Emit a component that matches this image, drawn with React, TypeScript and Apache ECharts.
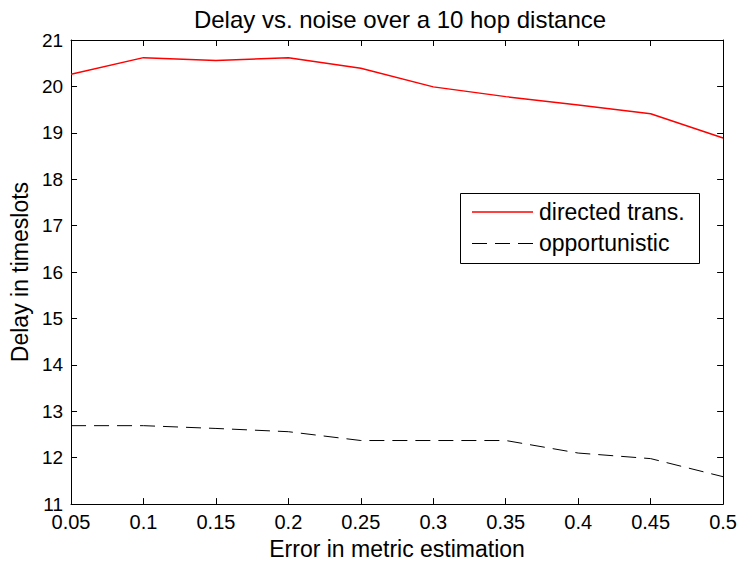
import React, { useEffect, useRef } from "react";
import * as echarts from "echarts";

const errorLevels = [0.05, 0.1, 0.15, 0.2, 0.25, 0.3, 0.35, 0.4, 0.45, 0.5];
const directedDelay = [20.26, 20.62, 20.56, 20.62, 20.39, 19.99, 19.78, 19.6, 19.41, 18.89];
const opportunisticDelay = [12.69, 12.69, 12.63, 12.56, 12.37, 12.37, 12.37, 12.1, 11.98, 11.59];
const seriesNames = ["directed trans.", "opportunistic"];
const titleText = "Delay vs. noise over a 10 hop distance";
const xAxisName = "Error in metric estimation";
const yAxisName = "Delay in timeslots";

const FONT = "'Liberation Sans', Arial, Helvetica, sans-serif";
const RED = "#ff0000";
const DASH = [15, 8];

export default function App() {
  const ref = useRef<HTMLDivElement>(null);

  useEffect(() => {
    if (!ref.current) return;
    const chart = echarts.init(ref.current, null, { renderer: "svg" });
    const fmt = (v: number) => String(+v.toFixed(2));
    const baseX = {
      type: "value",
      min: 0.05,
      max: 0.5,
      interval: 0.05,
      axisLine: { show: true, onZero: false, lineStyle: { color: "#000", width: 1 } },
      axisTick: { show: true, inside: true, length: 6, lineStyle: { color: "#000" } },
      splitLine: { show: false },
    };
    const baseY = {
      type: "value",
      min: 11,
      max: 21,
      interval: 1,
      axisLine: { show: true, onZero: false, lineStyle: { color: "#000", width: 1 } },
      axisTick: { show: true, inside: true, length: 6, lineStyle: { color: "#000" } },
      splitLine: { show: false },
    };
    const legendText = (text: string, y: number) => ({
      type: "text",
      x: 539,
      y,
      z: 101,
      style: {
        text,
        textAlign: "left",
        textVerticalAlign: "middle",
        fontSize: 23,
        fontFamily: FONT,
        fill: "#000",
      },
    });
    chart.setOption({
      animation: false,
      backgroundColor: "#fff",
      grid: { left: 71, right: 12, top: 40, bottom: 59, containLabel: false },
      graphic: [
        {
          type: "text",
          x: 400,
          y: 19,
          style: {
            text: titleText,
            textAlign: "center",
            textVerticalAlign: "middle",
            fontSize: 24,
            fontFamily: FONT,
            fill: "#000",
          },
        },
        {
          type: "rect",
          z: 100,
          shape: { x: 460.5, y: 193.5, width: 239, height: 70 },
          style: { fill: "#fff", stroke: "#000", lineWidth: 1 },
        },
        {
          type: "line",
          z: 101,
          shape: { x1: 472, y1: 212, x2: 533, y2: 212 },
          style: { stroke: RED, lineWidth: 1.5 },
        },
        {
          type: "line",
          z: 101,
          shape: { x1: 472, y1: 243.5, x2: 533, y2: 243.5 },
          style: { stroke: "#000", lineWidth: 1, lineDash: DASH },
        },
        legendText(seriesNames[0], 212),
        legendText(seriesNames[1], 243),
      ],
      xAxis: [
        {
          ...baseX,
          position: "bottom",
          name: xAxisName,
          nameLocation: "middle",
          nameGap: 32,
          nameTextStyle: { fontSize: 23, fontFamily: FONT, color: "#000" },
          axisLabel: {
            show: true,
            margin: 8,
            fontSize: 20,
            fontFamily: FONT,
            color: "#000",
            formatter: fmt,
          },
        },
        { ...baseX, position: "top", axisLabel: { show: false } },
      ],
      yAxis: [
        {
          ...baseY,
          position: "left",
          name: yAxisName,
          nameLocation: "middle",
          nameGap: 38,
          nameRotate: 90,
          nameTextStyle: { fontSize: 23, fontFamily: FONT, color: "#000" },
          axisLabel: { show: true, margin: 8, fontSize: 19, fontFamily: FONT, color: "#000" },
        },
        { ...baseY, position: "right", axisLabel: { show: false } },
      ],
      series: [
        {
          name: seriesNames[0],
          type: "line",
          symbol: "none",
          data: errorLevels.map((x, i) => [x, directedDelay[i]]),
          lineStyle: { color: RED, width: 1.5 },
          itemStyle: { color: RED },
        },
        {
          name: seriesNames[1],
          type: "line",
          symbol: "none",
          data: errorLevels.map((x, i) => [x, opportunisticDelay[i]]),
          lineStyle: { color: "#000", width: 1, type: DASH },
          itemStyle: { color: "#000" },
        },
      ],
    });
    return () => chart.dispose();
  }, []);

  return (
    <div
      ref={ref}
      style={{ position: "fixed", left: 0, top: 0, width: 740, height: 565, background: "#fff" }}
    />
  );
}
